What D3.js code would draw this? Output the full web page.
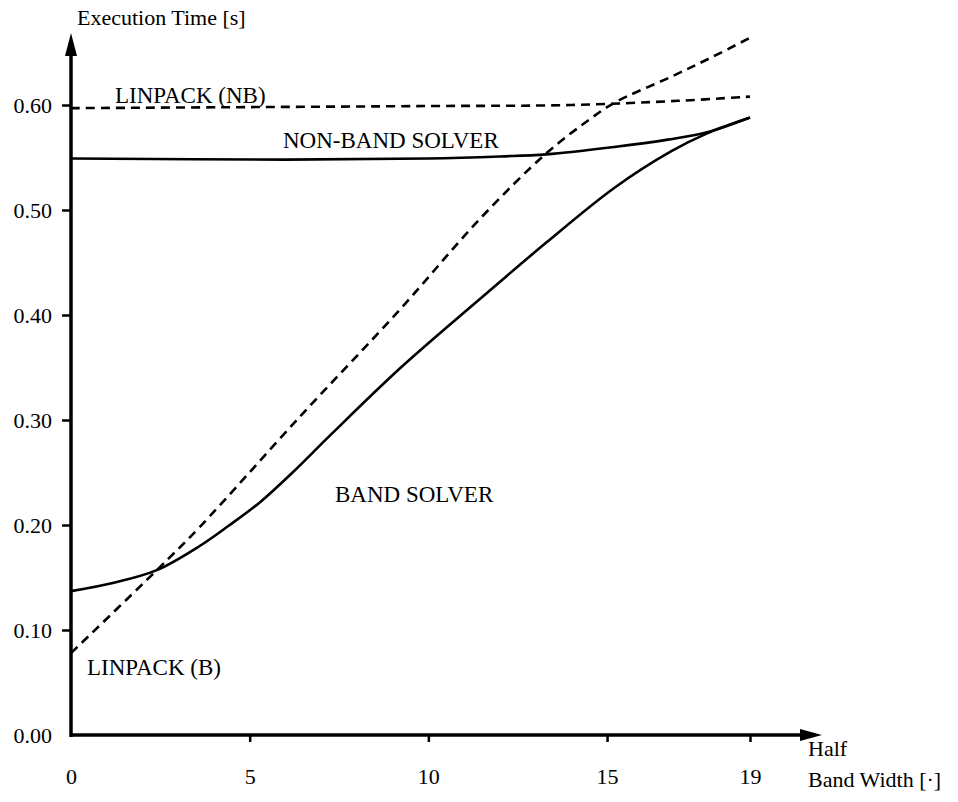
<!DOCTYPE html>
<html><head><meta charset="utf-8">
<script src="https://cdn.jsdelivr.net/npm/d3@7"></script>
<style>body{margin:0;background:#fff} svg text{font-family:"Liberation Serif", Tinos, "Times New Roman", Times, "DejaVu Serif", serif !important;}</style>
</head><body><svg id="c" width="958" height="802"></svg>
<script>
const FONT = "Liberation Serif";
const xTicks = [0, 5, 10, 15, 19];
const yTicks = [0.00, 0.10, 0.20, 0.30, 0.40, 0.50, 0.60];

const bandX = [0, 1.2, 2.4, 3.6, 4.4, 5.3, 6.2, 7.3, 9.2, 11.4, 13.3, 15.2, 16.8, 17.8, 19];
const bandY = [0.137, 0.145, 0.157, 0.180, 0.199, 0.222, 0.250, 0.287, 0.349, 0.414, 0.469, 0.521, 0.556, 0.573, 0.588];

const nonBandX = [0, 6, 10, 12, 13.3, 15.2, 16.7, 17.8, 19];
const nonBandY = [0.549, 0.548, 0.549, 0.551, 0.553, 0.560, 0.567, 0.574, 0.588];

const linBX = [0, 2.4, 3.6, 6.4, 9.2, 11.4, 13.3, 14.5, 15.2, 16.8, 17.9, 19];
const linBY = [0.078, 0.157, 0.198, 0.303, 0.405, 0.490, 0.554, 0.586, 0.602, 0.627, 0.645, 0.664];

const linNBX = [0, 5, 10, 14, 17, 19];
const linNBY = [0.597, 0.598, 0.599, 0.600, 0.604, 0.608];

const svg = d3.select("#c");
const x = d3.scaleLinear().domain([0, 19]).range([71, 750]);
const y = d3.scaleLinear().domain([0, 0.6]).range([735, 105]);

// axes
const yAxis = d3.axisLeft(y).tickValues(yTicks.slice(1)).tickFormat(d3.format(".2f")).tickSize(9).tickPadding(10);
const gy = svg.append("g").attr("transform", "translate(71,0)").call(yAxis);
gy.attr("font-family", FONT).attr("font-size", 22);
gy.select(".domain").remove();
gy.selectAll(".tick line").attr("stroke", "#000").attr("stroke-width", 2.5);
gy.selectAll(".tick text").attr("dy", "0.35em");
// 0.00 label (no tick)
svg.append("text").attr("x", 52).attr("y", y(0)).attr("dy", "0.35em").attr("text-anchor", "end")
  .attr("font-family", FONT).attr("font-size", 22).text(d3.format(".2f")(yTicks[0]));

const xAxis = d3.axisBottom(x).tickValues(xTicks).tickFormat(d3.format("d")).tickSize(7).tickPadding(26);
const gx = svg.append("g").attr("transform", "translate(0,735)").call(xAxis);
gx.attr("font-family", FONT).attr("font-size", 22);
gx.select(".domain").remove();
gx.selectAll(".tick line").attr("stroke", "#000").attr("stroke-width", 2.5).filter(d => d === 0).remove();

// axis lines with arrows
svg.append("line").attr("x1", 71).attr("y1", 737).attr("x2", 71).attr("y2", 50).attr("stroke", "#000").attr("stroke-width", 3.5);
svg.append("path").attr("d", "M71,33 L65,56 L77,56 Z").attr("fill", "#000");
svg.append("line").attr("x1", 70).attr("y1", 735).attr("x2", 805).attr("y2", 735).attr("stroke", "#000").attr("stroke-width", 3.5);
svg.append("path").attr("d", "M822,735 L800,729 L800,741 Z").attr("fill", "#000");

// text helper
const txt = (t, px, py, size) => svg.append("text").attr("x", px).attr("y", py)
  .attr("font-family", FONT).attr("font-size", size).text(t);
txt("Execution Time [s]", 77, 25, 22);
txt("Half", 808, 756, 22);
txt("Band Width [·]", 808, 787, 22);

// lines
const line = d3.line().x(d => x(d[0])).y(d => y(d[1])).curve(d3.curveCatmullRom.alpha(0.5));
function draw(xs, ys, dashed) {
  svg.append("path").datum(d3.zip(xs, ys)).attr("d", line).attr("fill", "none")
    .attr("stroke", "#000").attr("stroke-width", 2.6)
    .attr("stroke-dasharray", dashed ? "9,6" : null);
}
draw(linNBX, linNBY, true);
draw(linBX, linBY, true);
draw(nonBandX, nonBandY, false);
draw(bandX, bandY, false);

// labels
txt("LINPACK (NB)", 115, 103, 23);
txt("NON-BAND SOLVER", 283, 148, 23);
txt("BAND SOLVER", 335, 502, 23);
txt("LINPACK (B)", 87, 675, 23);
</script></body></html>
